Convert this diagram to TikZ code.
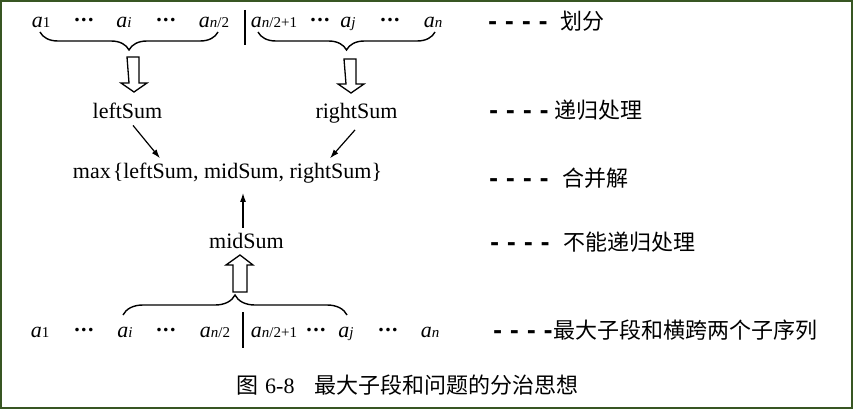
\documentclass[tikz,border=0pt]{standalone}
\usepackage{fontspec}
\setmainfont{Liberation Serif}
\newfontfamily\cjk{Noto Sans CJK SC}
\newfontfamily\dashfont{DejaVu Sans}
\usetikzlibrary{decorations.pathreplacing,arrows.meta}

\definecolor{framegreen}{RGB}{56,86,35}
\newcommand{\elem}[1]{\textit{a}{\fontsize{15}{15}\selectfont #1}}
\newcommand{\dashes}{{\dashfont\bfseries - - - -}}
\newcommand{\skipdots}{\raisebox{6pt}{\textbf{.\kern1.5pt.\kern1.5pt.}}}

\tikzset{
  txt/.style={font=\fontsize{22}{26}\selectfont, inner sep=0pt},
  item/.style={txt, anchor=base},
  note/.style={txt, anchor=west},
  curly/.style={decorate, decoration={brace, amplitude=#1}, line width=1.4pt},
  hollow/.style={draw, line width=1.3pt, fill=white, line join=miter},
  bar/.style={line width=2.6pt},
}

\begin{document}
\begin{tikzpicture}[x=1pt,y=-1pt,>={Latex[length=9pt,width=6pt]}]
    \useasboundingbox (0,0) rectangle (853,409);
    \draw[framegreen, line width=2pt] (1,1) rectangle (852,408);

    % top row
    \node[item] (t1) at (41,28)  {\elem{1}};
    \node[item] (t2) at (84,28)  {\skipdots};
    \node[item] (t3) at (124,28) {\elem{\textit{i}}};
    \node[item] (t4) at (166,28) {\skipdots};
    \node[item] (t5) at (214,28) {\elem{\textit{n}/2}};
    \node[item] (t6) at (274,28) {\elem{\textit{n}/2+1}};
    \node[item] (t7) at (320,28) {\skipdots};
    \node[item] (t8) at (348,28) {\elem{\textit{j}}};
    \node[item] (t9) at (390,28) {\skipdots};
    \node[item] (t10) at (433,28) {\elem{\textit{n}}};
    \draw[bar] (245,10) -- (245,45);

    \draw[curly=18pt] (218,32) -- (40,32);
    \draw[curly=18pt] (435,32) -- (258,32);
    \draw[hollow] (127,57) -- ++(12,0) -- ++(0,26) -- ++(8,0) -- ++(-13,9)
        -- ++(-13,-9) -- ++(8,0) -- cycle;
    \draw[hollow] (344,59) -- ++(12,0) -- ++(0,25) -- ++(8,0) -- ++(-13,9)
        -- ++(-13,-9) -- ++(8,0) -- cycle;

    % sums
    \node[item] (left)  at (127.5,118) {leftSum};
    \node[item] (right) at (356.5,118) {rightSum};
    \node[item] (max)   at (227.5,178) {max\kern2pt\{leftSum, midSum, rightSum\}};
    \node[item] (mid)   at (246.5,248) {midSum};

    \draw[->, line width=1.2pt] ([shift={(5.5pt,-7pt)}]left.south) -- ([shift={(-67.5pt,4pt)}]max.north);
    \draw[->, line width=1.2pt] ([shift={(-1.5pt,-7pt)}]right.south) -- ([shift={(102.5pt,4pt)}]max.north);
    \draw[->, line width=1.2pt, shorten <=5pt, shorten >=10pt]
        ([xshift=-3.5pt]mid.north) -- ([xshift=-3.5pt]mid.north |- max.south);

    \draw[hollow] (233,292) -- ++(0,-27) -- ++(-7,0) -- ++(14,-10) -- ++(13,10)
        -- ++(-6,0) -- ++(0,27) -- cycle;
    \draw[curly=20pt] (123,315) -- (347,315);

    % bottom row
    \node[item] (b1) at (40,337)  {\elem{1}};
    \node[item] (b2) at (84,337)  {\skipdots};
    \node[item] (b3) at (125,337) {\elem{\textit{i}}};
    \node[item] (b4) at (166,337) {\skipdots};
    \node[item] (b5) at (215,337) {\elem{\textit{n}/2}};
    \node[item] (b6) at (274,337) {\elem{\textit{n}/2+1}};
    \node[item] (b7) at (316,337) {\skipdots};
    \node[item] (b8) at (346,337) {\elem{\textit{j}}};
    \node[item] (b9) at (388,337) {\skipdots};
    \node[item] (b10) at (430,337) {\elem{\textit{n}}};
    \draw[bar] (243,312) -- (243,348);

    % notes on the right
    \node[note] (divide) at (488,21)  {\dashes\hspace{13pt}{\cjk 划分}};
    \node[note] (recur)  at (489,110) {\dashes\hspace{6pt}{\cjk 递归处理}};
    \node[note] (merge)  at (489,178) {\dashes\hspace{14pt}{\cjk 合并解}};
    \node[note] (norec)  at (490,242) {\dashes\hspace{14pt}{\cjk 不能递归处理}};
    \node[note] (cross)  at (493,330) {\dashes\hspace{1pt}{\cjk 最大子段和横跨两个子序列}};

    \node[note] (caption) at (236,385) {{\cjk 图}\hspace{7pt}6-8\hspace{20pt}{\cjk 最大子段和问题的分治思想}};
\end{tikzpicture}
\end{document}
